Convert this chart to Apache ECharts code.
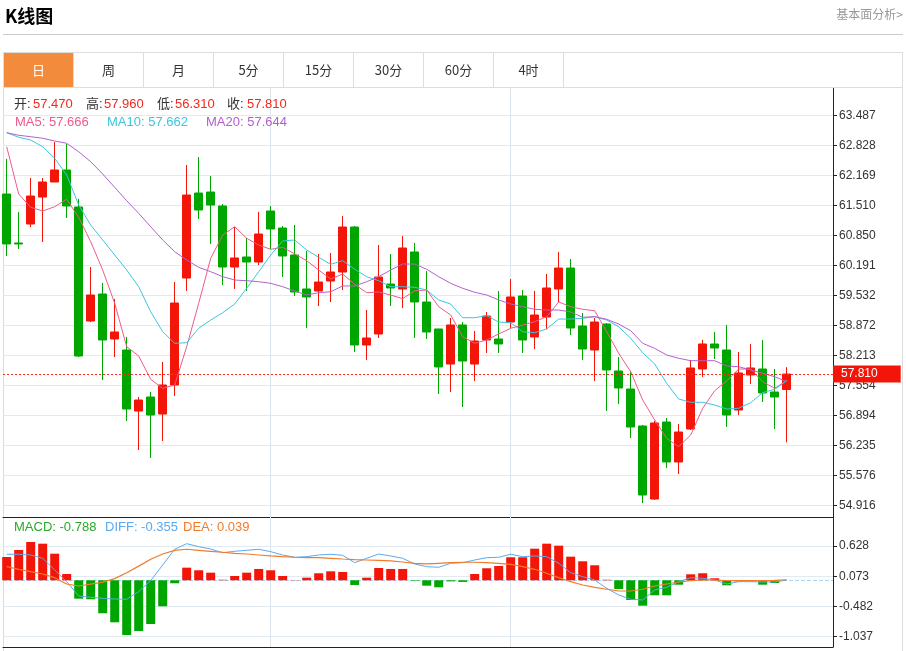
<!DOCTYPE html>
<html lang="zh-CN">
<head>
<meta charset="utf-8">
<title>K线图</title>
<script src="https://cdn.jsdelivr.net/npm/echarts@6.0.0/dist/echarts.min.js"></script>
<style>
body { margin: 0; background: #fff; overflow: hidden; font-family: 'Noto Sans CJK SC', sans-serif; }
.frame { position: absolute; left: 3px; top: 87px; width: 898px; height: 564px; border-left: 1px solid #ddd; border-right: 1px solid #ddd; }
#layout { position: absolute; left: 0; top: 0; width: 906px; height: 651px; }
.title { position: absolute; left: 5px; top: 3px; font-size: 18px; font-weight: bold; color: #000; line-height: 24px; }
.more { position: absolute; right: 3px; top: 5px; font-size: 12px; color: #999; line-height: 18px; }
.rule { position: absolute; left: 3px; top: 34px; width: 900px; height: 0; border-top: 1px solid #ccc; }
.tabs { position: absolute; left: 3px; top: 52px; width: 898px; height: 34px; border: 1px solid #ddd; }
.tabs span { float: left; width: 69px; height: 34px; border-right: 1px solid #ddd; text-align: center; line-height: 34px; font-size: 13px; color: #333; }
.tabs span.on { background: #f38b3c; color: #fff; }
</style>
</head>
<body>
<div class="frame"></div>
<div id="layout"></div>
<div class="title">K线图</div>
<div class="more">基本面分析&gt;</div>
<div class="rule"></div>
<div class="tabs"><span class="on">日</span><span>周</span><span>月</span><span>5分</span><span>15分</span><span>30分</span><span>60分</span><span>4时</span></div>
<script>
// 日K数据（开、收、低、高）
const kOpen = [61.766, 60.690, 61.107, 61.700, 62.030, 62.294, 61.481, 58.975, 59.569, 58.580,
    58.338, 56.997, 57.305, 56.931, 57.569, 59.920, 61.788, 61.810, 61.503, 60.162,
    60.382, 60.272, 61.393, 61.019, 60.426, 59.679, 59.635, 59.854, 60.052, 61.041,
    58.448, 58.690, 59.788, 59.679, 60.492, 59.393, 58.800, 58.030, 58.888, 58.030,
    58.558, 58.580, 58.953, 59.525, 58.624, 59.063, 59.679, 60.140, 58.866, 58.338,
    58.909, 57.877, 57.481, 56.668, 55.063, 56.756, 55.877, 56.602, 57.921, 58.470,
    58.338, 57.019, 57.789, 57.921, 57.415, 57.470];
const kClose = [60.668, 60.668, 61.722, 62.030, 62.294, 61.503, 58.206, 59.547, 58.558, 58.734,
    57.041, 57.239, 56.909, 57.569, 59.371, 61.744, 61.415, 61.525, 60.162, 60.360,
    60.272, 60.887, 60.997, 60.404, 59.613, 59.503, 59.832, 60.052, 61.041, 58.448,
    58.602, 59.942, 59.701, 60.580, 59.393, 58.734, 57.965, 58.888, 58.096, 58.536,
    59.085, 58.470, 59.503, 58.558, 59.107, 59.701, 60.140, 58.822, 58.360, 58.953,
    57.899, 57.503, 56.646, 55.151, 56.734, 55.877, 56.536, 57.943, 58.470, 58.382,
    56.909, 57.833, 57.943, 57.393, 57.305, 57.810];
const kLow = [60.404, 60.558, 61.041, 60.712, 62.030, 61.239, 58.184, 58.953, 57.679, 58.184,
    56.778, 56.140, 55.965, 56.338, 57.327, 59.635, 61.217, 60.668, 59.766, 59.679,
    59.635, 60.206, 60.558, 59.942, 59.525, 58.822, 59.305, 59.393, 59.657, 58.294,
    58.118, 58.602, 59.305, 59.261, 58.602, 58.580, 57.371, 57.415, 57.085, 57.657,
    58.272, 58.272, 58.822, 58.272, 58.360, 58.800, 59.393, 58.668, 58.118, 57.657,
    56.997, 57.151, 56.404, 54.975, 55.041, 55.745, 55.613, 56.580, 57.745, 58.140,
    56.646, 56.909, 57.591, 57.195, 56.602, 56.310];
const kHigh = [62.536, 61.371, 62.118, 62.118, 62.909, 62.865, 61.657, 60.162, 59.811, 59.459,
    58.624, 57.305, 57.415, 58.074, 59.832, 62.404, 62.580, 62.162, 61.547, 61.041,
    60.800, 61.371, 61.503, 61.063, 61.085, 60.514, 60.448, 60.470, 61.283, 61.063,
    59.217, 60.646, 60.448, 60.844, 60.690, 60.074, 58.800, 59.041, 58.953, 58.756,
    59.173, 59.635, 59.898, 59.657, 59.635, 60.008, 60.492, 60.338, 59.151, 59.041,
    58.931, 58.184, 57.877, 56.690, 56.778, 56.844, 56.712, 58.118, 58.558, 58.734,
    58.888, 58.294, 58.470, 58.558, 57.921, 57.960];

// 均线
const ma5 = [62.806, 61.766, 61.474, 61.393, 61.487, 61.650, 61.254, 60.718, 60.096, 59.364,
    58.411, 58.206, 57.694, 57.496, 57.569, 58.411, 59.364, 60.353, 60.865, 61.048,
    60.793, 60.646, 60.551, 60.595, 60.448, 60.301, 60.096, 59.898, 60.008, 59.782,
    59.597, 59.613, 59.547, 59.465, 59.641, 59.657, 59.290, 59.107, 58.630, 58.485,
    58.558, 58.690, 58.815, 58.887, 58.960, 59.070, 59.393, 59.290, 59.232, 59.202,
    58.740, 58.266, 57.861, 57.239, 56.800, 56.398, 56.213, 56.470, 57.057, 57.444,
    57.657, 57.920, 57.920, 57.641, 57.496, 57.666];
const ma10 = [63.114, 63.013, 62.953, 62.806, 62.551, 62.184, 61.525, 61.085, 60.756, 60.426,
    60.096, 59.729, 59.180, 58.740, 58.485, 58.498, 58.815, 58.997, 59.158, 59.349,
    59.694, 60.059, 60.426, 60.734, 60.756, 60.536, 60.375, 60.221, 60.301, 60.112,
    59.949, 59.861, 59.729, 59.729, 59.716, 59.657, 59.437, 59.349, 59.048, 59.048,
    59.092, 58.953, 58.938, 58.740, 58.718, 58.800, 59.019, 59.019, 59.035, 59.070,
    58.997, 58.850, 58.595, 58.279, 58.030, 57.606, 57.261, 57.189, 57.189, 57.129,
    57.041, 57.057, 57.180, 57.400, 57.474, 57.662];
const ma20 = [63.114, 63.057, 63.026, 62.991, 62.931, 62.881, 62.696, 62.476, 62.206, 61.914,
    61.619, 61.342, 61.048, 60.756, 60.498, 60.316, 60.155, 60.059, 59.949, 59.876,
    59.861, 59.839, 59.804, 59.729, 59.635, 59.547, 59.597, 59.619, 59.745, 59.745,
    59.839, 59.949, 60.096, 60.228, 60.228, 60.112, 59.949, 59.804, 59.694, 59.606,
    59.547, 59.437, 59.349, 59.290, 59.232, 59.217, 59.217, 59.173, 59.057, 59.070,
    59.013, 58.909, 58.762, 58.485, 58.375, 58.228, 58.156, 58.103, 58.103, 58.103,
    57.986, 57.971, 57.899, 57.826, 57.751, 57.644];

// MACD
const macdBar = [0.428, 0.557, 0.704, 0.673, 0.489, 0.116, -0.338, -0.349, -0.606, -0.772,
    -1.005, -0.932, -0.803, -0.478, -0.055, 0.232, 0.184, 0.140, 0.010, 0.079,
    0.140, 0.208, 0.184, 0.079, 0.004, 0.048, 0.129, 0.165, 0.153, -0.086,
    0.048, 0.226, 0.208, 0.208, -0.010, -0.099, -0.129, -0.020, -0.030, 0.116,
    0.221, 0.263, 0.423, 0.423, 0.581, 0.673, 0.636, 0.434, 0.349, 0.276,
    0.010, -0.160, -0.362, -0.467, -0.276, -0.276, -0.081, 0.110, 0.129, 0.037,
    -0.092, -0.020, -0.020, -0.081, -0.050, 0.000];
const diffLine = [0.478, 0.478, 0.465, 0.404, 0.189, -0.026, -0.289, -0.312, -0.331, -0.344,
    -0.349, -0.209, -0.007, 0.281, 0.570, 0.673, 0.617, 0.575, 0.507, 0.533,
    0.551, 0.570, 0.526, 0.465, 0.423, 0.434, 0.465, 0.478, 0.459, 0.323,
    0.404, 0.483, 0.447, 0.404, 0.300, 0.250, 0.239, 0.312, 0.323, 0.373,
    0.415, 0.423, 0.478, 0.434, 0.447, 0.434, 0.312, 0.140, 0.066, 0.005,
    -0.147, -0.270, -0.349, -0.362, -0.178, -0.129, -0.026, 0.048, 0.037, 0.005,
    -0.068, -0.026, -0.026, -0.031, -0.031, 0.005];
const deaLine = [0.250, 0.202, 0.158, 0.116, 0.048, -0.068, -0.105, -0.070, -0.035, 0.030,
    0.140, 0.260, 0.386, 0.483, 0.551, 0.570, 0.551, 0.533, 0.515, 0.496,
    0.483, 0.465, 0.447, 0.434, 0.423, 0.415, 0.415, 0.404, 0.391, 0.379,
    0.373, 0.367, 0.355, 0.336, 0.312, 0.300, 0.312, 0.323, 0.331, 0.331,
    0.323, 0.312, 0.294, 0.250, 0.202, 0.129, 0.048, -0.026, -0.086, -0.129,
    -0.165, -0.197, -0.197, -0.165, -0.105, -0.068, -0.031, -0.007, 0.005, 0.005,
    -0.007, -0.007, -0.007, -0.007, -0.002, 0.010];
const macdLegend = ['MACD: -0.788', 'DIFF: -0.355', 'DEA: 0.039'];

// 坐标刻度
const priceTicks = [54.916, 55.576, 56.235, 56.894, 57.554, 58.213, 58.872, 59.532, 60.191, 60.850, 61.510, 62.169, 62.828, 63.487];
const macdTicks = [-1.037, -0.482, 0.073, 0.628];
const splitDays = [22, 42];
const ohlcNames = ['开', '高', '低', '收'];

const RED = '#f21508';
const GREEN = '#00a600';
const FONT = '"Liberation Sans", "Noto Sans CJK SC", sans-serif';
const GRID_LINE = '#e2eaf1';

let myChart = null;

function pairs(arr) {
    return arr.map(function (v, i) { return [i, v]; });
}

function txt(x, y, s, color) {
    return {
        type: 'text', x: x, y: y, z: 100, silent: true,
        style: { text: s, fill: color, fontSize: 13, fontFamily: FONT, verticalAlign: 'middle' }
    };
}

function xAxisOf(idx) {
    return {
        type: 'value', gridIndex: idx, min: -0.308, max: 68.858,
        axisLine: { show: true, onZero: false, lineStyle: { color: '#222' } },
        axisTick: { show: false }, axisLabel: { show: false }, splitLine: { show: false }
    };
}

function yAxisOf(idx, min, max, ticks) {
    return {
        type: 'value', gridIndex: idx, position: 'right', min: min, max: max,
        axisLine: { show: true, onZero: false, lineStyle: { color: '#222' } },
        axisTick: { show: true, length: 4, customValues: ticks, lineStyle: { color: '#222' } },
        axisLabel: {
            customValues: ticks, margin: 6, color: '#333', fontSize: 12, fontFamily: FONT,
            formatter: function (v) { return Number(v).toFixed(3); }
        },
        splitLine: { show: true, lineStyle: { color: GRID_LINE } }
    };
}

function dayLines() {
    return splitDays.map(function (d) { return { xAxis: d }; });
}

const kData = kOpen.map(function (o, i) { return [i, o, kClose[i], kLow[i], kHigh[i]]; });
const last = kOpen.length - 1;
const ohlcValues = [kOpen[last], kHigh[last], kLow[last], kClose[last]];

myChart = echarts.init(document.getElementById('layout'));

let graphics = [];
const ohlcX = [14, 86, 157, 227];
const ohlcValX = [33, 104, 175, 247];
ohlcNames.forEach(function (n, i) {
    graphics.push(txt(ohlcX[i], 104, n + ':', '#333'));
    graphics.push(txt(ohlcValX[i], 104, ohlcValues[i].toFixed(3), '#f2281e'));
});
graphics.push(txt(15, 122, 'MA5: ' + ma5[last].toFixed(3), '#ef5a8a'));
graphics.push(txt(107, 122, 'MA10: ' + ma10[last].toFixed(3), '#3cc5df'));
graphics.push(txt(206, 122, 'MA20: ' + ma20[last].toFixed(3), '#b35fcf'));
graphics.push(txt(14, 527, macdLegend[0], '#2aa82a'));
graphics.push(txt(105, 527, macdLegend[1], '#5aa9ee'));
graphics.push(txt(183, 527, macdLegend[2], '#f27b2a'));

let option = {
    animation: false,
    textStyle: { fontFamily: FONT },
    grid: [
        { left: 3, top: 88, width: 830, height: 429 },
        { left: 3, top: 517, width: 830, height: 130 }
    ],
    xAxis: [xAxisOf(0), xAxisOf(1)],
    yAxis: [
        yAxisOf(0, 54.668, 64.096, priceTicks),
        yAxisOf(1, -1.226, 1.163, macdTicks)
    ],
    graphic: graphics,
    series: [
        {
            type: 'candlestick', xAxisIndex: 0, yAxisIndex: 0,
            data: kData, encode: { x: 0, y: [1, 2, 3, 4] },
            barWidth: 9,
            itemStyle: { color: RED, color0: GREEN, borderColor: RED, borderColor0: GREEN, borderWidth: 1 },
            markLine: {
                silent: true, symbol: 'none', animation: false,
                data: [{
                    yAxis: kClose[last],
                    lineStyle: { color: '#ff2a1f', type: [2, 2], width: 1 },
                    label: {
                        show: true, position: 'end', distance: 0,
                        formatter: kClose[last].toFixed(3),
                        color: '#fff', backgroundColor: RED, fontSize: 12, fontFamily: FONT,
                        padding: [3, 23, 2, 8]
                    }
                }]
            }
        },
        {
            name: 'MA5', type: 'line', xAxisIndex: 0, yAxisIndex: 0, data: pairs(ma5),
            symbol: 'none', lineStyle: { width: 1, color: '#ef5a8a' }
        },
        {
            name: 'MA10', type: 'line', xAxisIndex: 0, yAxisIndex: 0, data: pairs(ma10),
            symbol: 'none', lineStyle: { width: 1, color: '#3cc5df' }
        },
        {
            name: 'MA20', type: 'line', xAxisIndex: 0, yAxisIndex: 0, data: pairs(ma20),
            symbol: 'none', lineStyle: { width: 1, color: '#b35fcf' },
            markLine: {
                silent: true, symbol: 'none', z: 1, label: { show: false },
                lineStyle: { color: '#dce5ed', type: 'solid', width: 1 },
                data: dayLines()
            }
        },
        {
            name: 'MACD', type: 'bar', xAxisIndex: 1, yAxisIndex: 1, data: pairs(macdBar),
            barWidth: 9,
            itemStyle: { color: function (p) { return p.value[1] >= 0 ? RED : GREEN; } },
            markLine: {
                silent: true, symbol: 'none', z: 1, label: { show: false },
                lineStyle: { color: '#dce5ed', type: 'solid', width: 1 },
                data: dayLines().concat([{ yAxis: 0, lineStyle: { color: '#a9d6f2', type: 'dashed', width: 1 } }])
            }
        },
        {
            name: 'DIFF', type: 'line', xAxisIndex: 1, yAxisIndex: 1, data: pairs(diffLine),
            symbol: 'none', lineStyle: { width: 1, color: '#5aa9ee' }
        },
        {
            name: 'DEA', type: 'line', xAxisIndex: 1, yAxisIndex: 1, data: pairs(deaLine),
            symbol: 'none', lineStyle: { width: 1.2, color: '#f27b2a' }
        }
    ]
};
myChart.setOption(option);
</script>
</body>
</html>
